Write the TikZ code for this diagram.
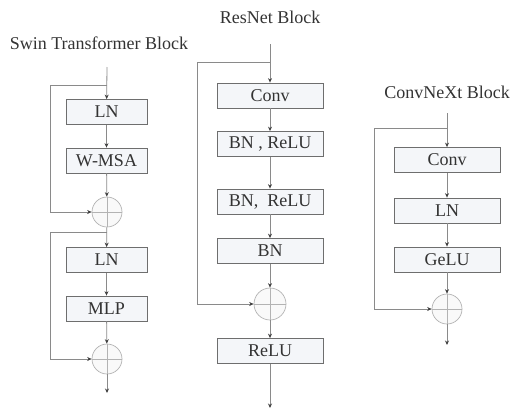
\documentclass[tikz,border=0pt]{standalone}
\usepackage{fontspec}
\setmainfont{Liberation Serif}
\usetikzlibrary{arrows.meta}
\definecolor{linegray}{HTML}{8A8A8A}
\definecolor{boxedge}{HTML}{6E6E6E}
\definecolor{boxfill}{HTML}{F4F6F9}
\definecolor{txt}{HTML}{333333}
\tikzset{
  blockbox/.style={draw=boxedge, line width=0.8pt, fill=boxfill, minimum height=25pt,
    inner sep=0pt, font=\fontsize{18}{20}\selectfont, text=txt},
  narrowbox/.style={blockbox, minimum width=81pt},
  widebox/.style={blockbox, minimum width=106pt},
  addnode/.style={circle, draw=linegray!65, line width=0.7pt, fill=gray!5,
    minimum size=#1, inner sep=0pt},
  title/.style={font=\fontsize{18}{20}\selectfont, text=txt},
  flow/.style={draw=linegray, line width=0.8pt, -{Stealth[length=4.5pt,width=4pt,black!75]}},
  wire/.style={draw=linegray, line width=0.8pt},
}
\newcommand{\pluscross}[1]{%
  \draw[linegray!65, line width=0.6pt] (#1.north) -- (#1.south) (#1.west) -- (#1.east);}
\begin{document}
\begin{tikzpicture}[x=1pt, y=-1pt]
\useasboundingbox (0,0) rectangle (510,410);

% ---------- Swin Transformer block ----------
\node[title] (sTitle) at (99,43) {Swin Transformer Block};
\coordinate (sIn) at (107,67);
\coordinate (sB1) at (107,85);
\coordinate (sL1) at (50,85);
\node[narrowbox] (sLN1) at (106.5,112) {LN};
\node[narrowbox] (sMSA) at (106.5,160.5) {W-MSA};
\node[addnode=30pt] (sAdd1) at (107,212) {};
\coordinate (sB2) at (107,232);
\coordinate (sL2) at (50,232);
\node[narrowbox] (sLN2) at (106.5,260) {LN};
\node[narrowbox] (sMLP) at (106.5,308.5) {MLP};
\node[addnode=30pt] (sAdd2) at (107,359) {};
\coordinate (sOut) at (107,393);
\pluscross{sAdd1}
\pluscross{sAdd2}
\path[flow] (sIn) -- (sLN1);
\path[flow] (sLN1) -- (sMSA);
\path[flow] (sMSA) -- (sAdd1);
\path[flow] (sAdd1) -- (sLN2);
\path[flow] (sLN2) -- (sMLP);
\path[flow] (sMLP) -- (sAdd2);
\path[flow] (sAdd2) -- (sOut);
\path[wire] (sB1) -- (sL1);
\path[flow] (sL1) |- (sAdd1);
\path[wire] (sB2) -- (sL2);
\path[flow] (sL2) |- (sAdd2);

% ---------- ResNet block ----------
\node[title] (rTitle) at (270,17) {ResNet Block};
\coordinate (rIn) at (270,44);
\coordinate (rB) at (270,62);
\coordinate (rL) at (197,62);
\node[widebox] (rConv) at (270,95.5) {Conv};
\node[widebox] (rBR1) at (270,144) {BN , ReLU};
\node[widebox] (rBR2) at (270,201.5) {BN,\ \ ReLU};
\node[widebox] (rBN) at (270,251) {BN};
\node[addnode=32pt] (rAdd) at (270,304) {};
\node[widebox] (rReLU) at (270,351) {ReLU};
\coordinate (rOut) at (270,408);
\pluscross{rAdd}
\path[flow] (rIn) -- (rConv);
\path[flow] (rConv) -- (rBR1);
\path[flow] (rBR1) -- (rBR2);
\path[flow] (rBR2) -- (rBN);
\path[flow] (rBN) -- (rAdd);
\path[flow] (rAdd) -- (rReLU);
\path[flow] (rReLU) -- (rOut);
\path[wire] (rB) -- (rL);
\path[flow] (rL) |- (rAdd);

% ---------- ConvNeXt block ----------
\node[title] (cTitle) at (447,92) {ConvNeXt Block};
\coordinate (cIn) at (447,113);
\coordinate (cB) at (447,128);
\coordinate (cL) at (374,128);
\node[widebox] (cConv) at (447,160) {Conv};
\node[widebox] (cLN) at (447,210.5) {LN};
\node[widebox] (cGeLU) at (447,259.5) {GeLU};
\node[addnode=30pt] (cAdd) at (447,309) {};
\coordinate (cOut) at (447,345);
\pluscross{cAdd}
\path[flow] (cIn) -- (cConv);
\path[flow] (cConv) -- (cLN);
\path[flow] (cLN) -- (cGeLU);
\path[flow] (cGeLU) -- (cAdd);
\path[flow] (cAdd) -- (cOut);
\path[wire] (cB) -- (cL);
\path[flow] (cL) |- (cAdd);
\end{tikzpicture}
\end{document}
